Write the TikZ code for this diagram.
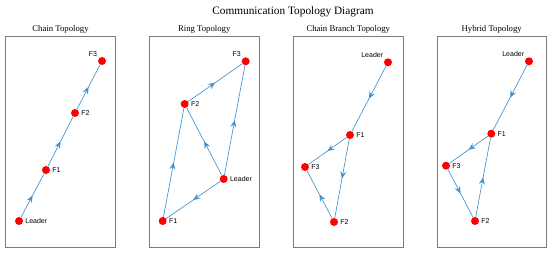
\documentclass[tikz,border=0pt]{standalone}
\usepackage{fontspec}
\setmainfont{Liberation Serif}
\newfontfamily\labfont{Liberation Sans}
\usetikzlibrary{arrows.meta,positioning,decorations.markings}
\definecolor{linkblue}{RGB}{64,146,208}
\definecolor{framegray}{RGB}{125,125,125}
\begin{document}
\begin{tikzpicture}[x=1pt,y=-1pt,
  panel/.style={draw=framegray,line width=0.9pt,minimum width=109.5pt,minimum height=211pt,inner sep=0pt},
  ptitle/.style={font=\fontsize{8.7}{10}\selectfont,inner sep=0pt},
  agent/.style={circle,fill=red,inner sep=0pt,minimum size=8pt},
  every label/.style={font=\labfont\fontsize{7}{8}\selectfont,inner sep=1pt},
  label distance=1pt,
  link/.style={linkblue,line width=0.65pt,postaction={decorate},
    decoration={markings,mark=at position 0.5 with {\arrow{Stealth[length=7pt,width=6pt,inset=2.5pt]}}}}]
\useasboundingbox (0,0) rectangle (550,254);
\node[font=\fontsize{11.3}{13}\selectfont] (title) at (293,12) {Communication Topology Diagram};
\node[panel] (p1) at (60.5,141.5) {};
\node[panel] (p2) at (204.2,141.5) {};
\node[panel] (p3) at (348.3,141.5) {};
\node[panel] (p4) at (491.7,141.5) {};
\node[ptitle,above=2pt of p1] (t1) {Chain Topology};
\node[ptitle,above=2pt of p2] (t2) {Ring Topology};
\node[ptitle,above=2pt of p3] (t3) {Chain Branch Topology};
\node[ptitle,above=2pt of p4] (t4) {Hybrid Topology};

\node[agent,label=right:Leader] (c-l) at (19,221) {};
\node[agent,label=right:F1] (c-f1) at (46,170) {};
\node[agent,label=right:F2] (c-f2) at (75,113) {};
\node[agent,label=above left:F3] (c-f3) at (102,61) {};
\draw[link] (c-l) -- (c-f1);
\draw[link] (c-f1) -- (c-f2);
\draw[link] (c-f2) -- (c-f3);

\node[agent,label=right:Leader] (r-l) at (223.7,179) {};
\node[agent,label=right:F1] (r-f1) at (162.7,221) {};
\node[agent,label=right:F2] (r-f2) at (184.7,104) {};
\node[agent,label=above left:F3] (r-f3) at (245.7,61.3) {};
\draw[link] (r-l) -- (r-f1);
\draw[link] (r-f1) -- (r-f2);
\draw[link] (r-l) -- (r-f2);
\draw[link] (r-f2) -- (r-f3);
\draw[link] (r-l) -- (r-f3);

\node[agent,label=above left:Leader] (b-l) at (388,62.3) {};
\node[agent,label=right:F1] (b-f1) at (350,135) {};
\node[agent,label=right:F2] (b-f2) at (334,222) {};
\node[agent,label=right:F3] (b-f3) at (305,167) {};
\draw[link] (b-l) -- (b-f1);
\draw[link] (b-f1) -- (b-f3);
\draw[link] (b-f1) -- (b-f2);
\draw[link] (b-f2) -- (b-f3);

\node[agent,label=above left:Leader] (h-l) at (529,61.3) {};
\node[agent,label=right:F1] (h-f1) at (491.3,133.7) {};
\node[agent,label=right:F2] (h-f2) at (475,221) {};
\node[agent,label=right:F3] (h-f3) at (446,165.7) {};
\draw[link] (h-l) -- (h-f1);
\draw[link] (h-f1) -- (h-f3);
\draw[link] (h-f3) -- (h-f2);
\draw[link] (h-f2) -- (h-f1);
\end{tikzpicture}
\end{document}
